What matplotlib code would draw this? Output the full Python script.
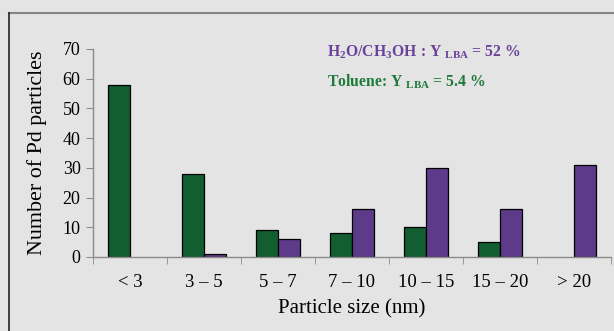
"""
Pd particle size distribution for the two solvent systems
Grouped bar chart, counts per size class
"""

import matplotlib.pyplot as plt
import numpy as np
from matplotlib.lines import Line2D

size_classes = ['< 3', '3 – 5', '5 – 7', '7 – 10', '10 – 15', '15 – 20', '> 20']
toluene_counts = [58, 28, 9, 8, 10, 5, 0]
water_methanol_counts = [0, 1, 6, 16, 30, 16, 31]

plt.rcParams['font.family'] = ['Liberation Serif', 'DejaVu Serif']
plt.rcParams['mathtext.fontset'] = 'custom'
plt.rcParams['mathtext.rm'] = 'Liberation Serif:bold'
plt.rcParams['mathtext.bf'] = 'Liberation Serif:bold'

BG = '#e3e4e3'
GREEN = '#125e31'
PURPLE = '#5d3a8a'
AXIS_GREY = '#8a8a8a'

fig = plt.figure(figsize=(6.14, 3.31), dpi=100, facecolor=BG)
ax = fig.add_axes([0.1515, 0.2236, 0.8435, 0.6284])
ax.set_facecolor(BG)

x = np.arange(len(size_classes))
w = 0.297


def edge_widths(values):
    # empty classes get no outline
    return [0.9 if v > 0 else 0 for v in values]


ax.bar(x - w / 2, toluene_counts, w, color=GREEN, edgecolor='black',
       linewidth=edge_widths(toluene_counts))
ax.bar(x + w / 2, water_methanol_counts, w, color=PURPLE, edgecolor='black',
       linewidth=edge_widths(water_methanol_counts))

ax.set_xlim(-0.5, len(size_classes) - 0.5)
ax.set_ylim(0, 70)
ax.set_yticks(range(0, 71, 10))
ax.tick_params(axis='y', labelsize=13, length=5, color=AXIS_GREY, pad=4)

# category labels centred, tick marks on the class boundaries
ax.set_xticks(x)
ax.set_xticklabels(size_classes, fontsize=13.5)
ax.tick_params(axis='x', which='major', length=0, pad=12)
ax.set_xticks(np.arange(-0.5, len(size_classes)), minor=True)
ax.tick_params(axis='x', which='minor', length=5, color=AXIS_GREY)

for side in ['top', 'right']:
    ax.spines[side].set_visible(False)
for side in ['left', 'bottom']:
    ax.spines[side].set_color(AXIS_GREY)
    ax.spines[side].set_linewidth(1.0)

ax.set_ylabel('Number of Pd particles', fontsize=15.8, labelpad=11)
ax.set_xlabel('Particle size (nm)', fontsize=15, labelpad=6)

ax.text(0.452, 0.986, r'H$_2$O/CH$_3$OH : Y $_{\mathrm{LBA}}$ = 52 %', transform=ax.transAxes,
        fontsize=11.3, fontweight='bold', color='#6a409a', va='center')
ax.text(0.452, 0.841, r'Toluene: Y $_{\mathrm{LBA}}$ = 5.4 %', transform=ax.transAxes,
        fontsize=11.3, fontweight='bold', color='#1f7a3a', va='center')

# panel frame
fig.add_artist(Line2D([0.0145, 1.0], [0.962, 0.962], transform=fig.transFigure,
                      color='#858585', linewidth=1.5))
fig.add_artist(Line2D([0.0145, 0.0145], [0.0, 0.962], transform=fig.transFigure,
                      color='#222222', linewidth=1.2))

fig.savefig('out.png', dpi=100, facecolor=BG)
